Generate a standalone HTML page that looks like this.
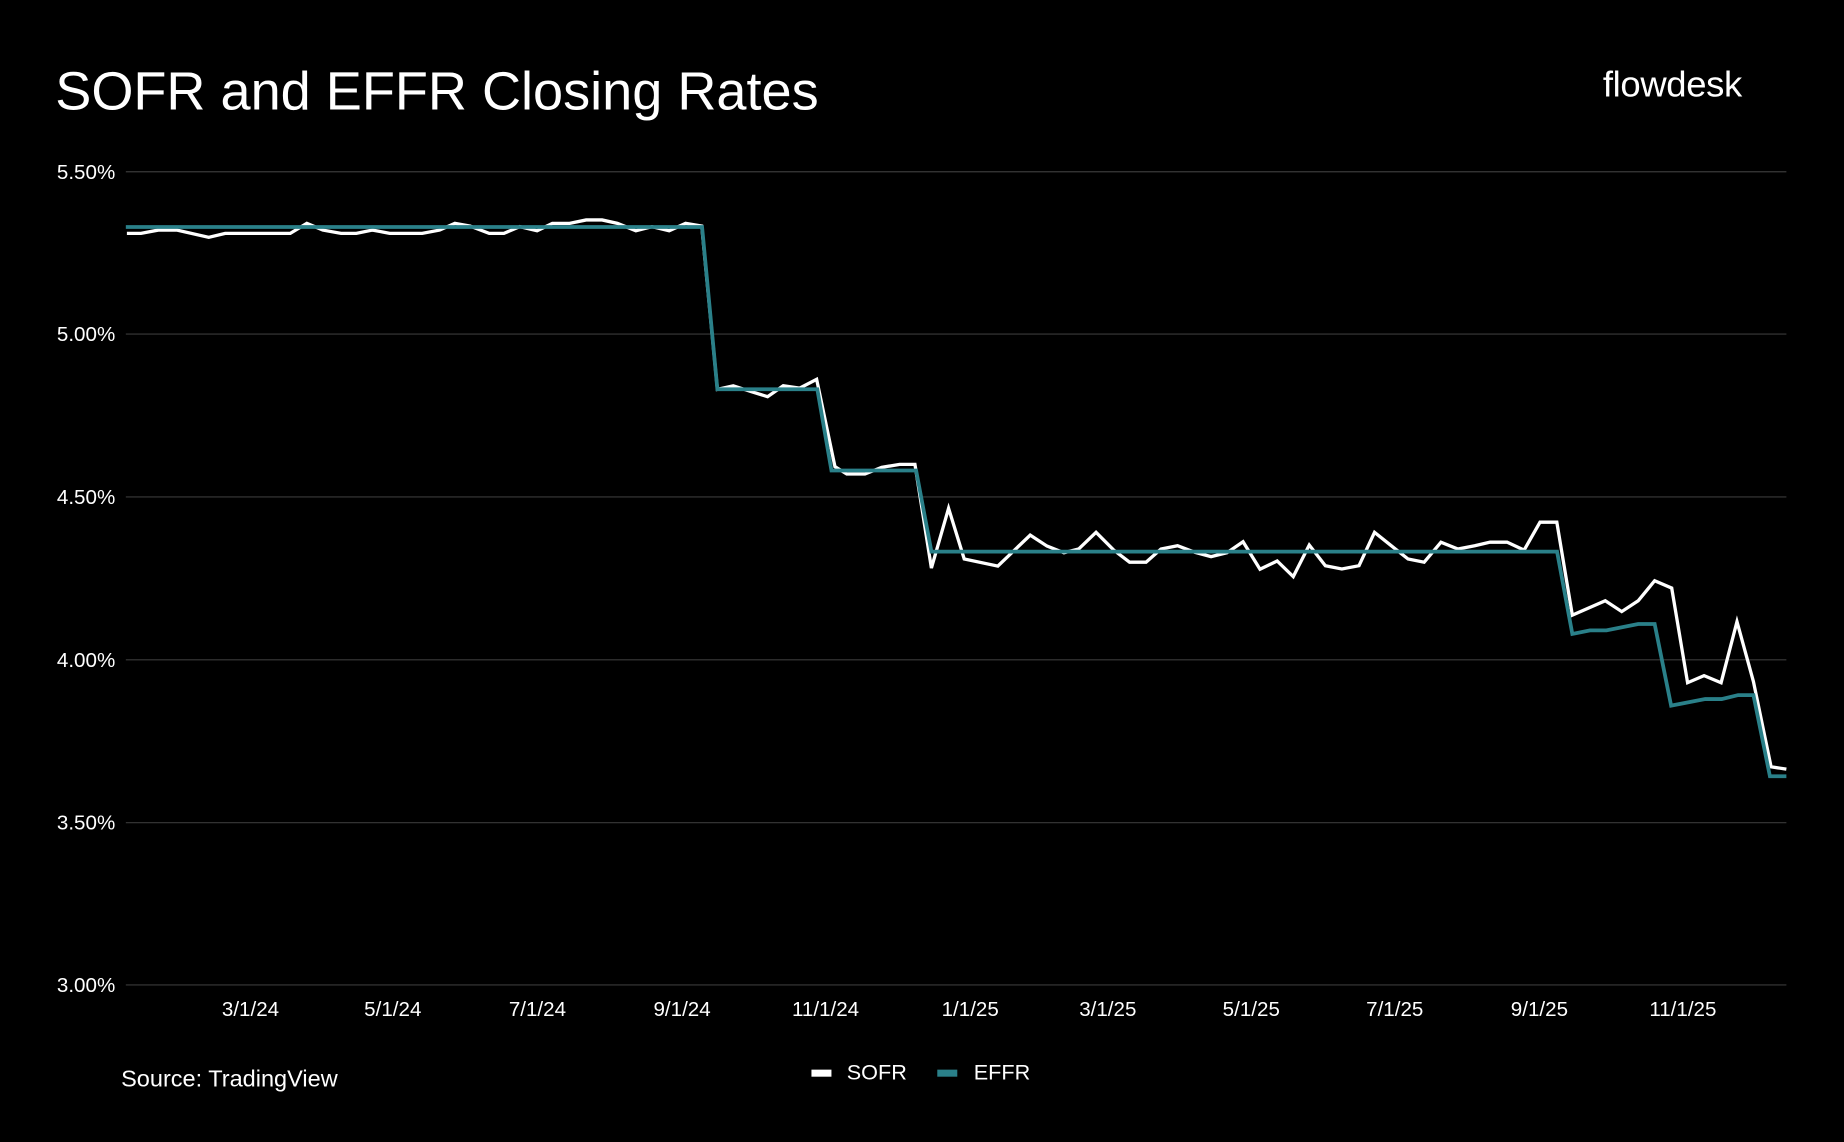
<!DOCTYPE html>
<html><head><meta charset="utf-8"><style>
html,body{margin:0;padding:0;background:#000;}
svg{display:block;}
text{font-family:"Liberation Sans",Arial,sans-serif;fill:#fff;}
</style></head><body>
<svg width="1844" height="1142" viewBox="0 0 1568 971" xmlns="http://www.w3.org/2000/svg">
<rect width="1568" height="971" fill="#000"/>
<text x="47" y="93" font-size="46">SOFR and EFFR Closing Rates</text>
<text x="1363" y="82" font-size="31" letter-spacing="-0.3">flowdesk</text>
<g stroke="#3a3a3a" stroke-width="1">
<line x1="107" x2="1519" y1="146" y2="146"/>
<line x1="107" x2="1519" y1="284" y2="284"/>
<line x1="107" x2="1519" y1="422.5" y2="422.5"/>
<line x1="107" x2="1519" y1="561" y2="561"/>
<line x1="107" x2="1519" y1="699.5" y2="699.5"/>
<line x1="107" x2="1519" y1="837.5" y2="837.5"/>
</g>
<g font-size="17.5" text-anchor="end">
<text x="98" y="152">5.50%</text>
<text x="98" y="290">5.00%</text>
<text x="98" y="428.5">4.50%</text>
<text x="98" y="567">4.00%</text>
<text x="98" y="705.5">3.50%</text>
<text x="98" y="843.5">3.00%</text>
</g>
<g font-size="17.5" text-anchor="middle">
<text x="213" y="864">3/1/24</text>
<text x="334" y="864">5/1/24</text>
<text x="457" y="864">7/1/24</text>
<text x="580" y="864">9/1/24</text>
<text x="702" y="864">11/1/24</text>
<text x="825" y="864">1/1/25</text>
<text x="942" y="864">3/1/25</text>
<text x="1064" y="864">5/1/25</text>
<text x="1186" y="864">7/1/25</text>
<text x="1309" y="864">9/1/25</text>
<text x="1431" y="864">11/1/25</text>
</g>
<polyline fill="none" stroke="#fff" stroke-width="2.8" stroke-linejoin="miter" points="107.9,198.4 119.9,198.4 134.6,195.6 150.2,195.6 177.5,201.8 191.5,198.4 246.8,198.4 260.9,189.9 274.5,195.6 290,198.4 303,198.4 316.8,195.6 331.4,198.4 359,198.4 373.8,195.6 386.8,189.9 399.8,192.2 416,198.4 428.5,198.4 442,192.7 456.7,196.2 469.7,189.9 484.4,189.9 498.4,187 512,187 525,189.9 540.7,196.2 554.4,192.7 569,196.2 583,189.9 596.7,192.2 610,331 623.5,328 639,333 652.7,337.3 666,328 680,330 694.4,322.5 710,396.8 720,403 735.5,403 749.7,397.4 765,394.8 778,394.8 792,483 806.6,432.2 819.9,475.3 848.5,481.3 876,455 890.3,464.3 904.7,470 917.2,466.8 932,452.6 947,467.7 960.5,478 974.5,478 987.2,466.8 1001.3,464 1016,469.6 1029.8,473.3 1043.4,470 1057,460.6 1071.4,484 1086,477 1099.7,490.3 1113.3,463.4 1127,481 1141,483.8 1155.6,481 1168.8,452.6 1183,464 1197.3,475.3 1211,478 1225.3,461 1239.7,466.8 1254,464 1267,461 1281.5,461 1296,467.7 1309.5,444 1323.8,444 1337,523 1365,510.8 1379,520 1393,510.8 1407,493.8 1421.5,500 1435,580.5 1449,574.5 1463.5,580.5 1477,528.6 1491,579.6 1506,652 1519,654"/>
<polyline fill="none" stroke="#2a8089" stroke-width="3.2" points="107,193 597,193 610,331 695,331 707,400 779,400 792,469 1324,469 1337,539 1352,536 1366,536 1393,530.6 1407,530.6 1421,600 1450,594.4 1464,594.4 1478,591 1491,591 1505,660 1519,660"/>
<text x="103" y="924" font-size="20">Source: TradingView</text>
<rect x="690" y="909.5" width="17" height="6" fill="#fff"/>
<text x="720" y="918" font-size="18.4">SOFR</text>
<rect x="797" y="909.5" width="17" height="6" fill="#2a8089"/>
<text x="828" y="918" font-size="18.4">EFFR</text>
</svg>
</body></html>
